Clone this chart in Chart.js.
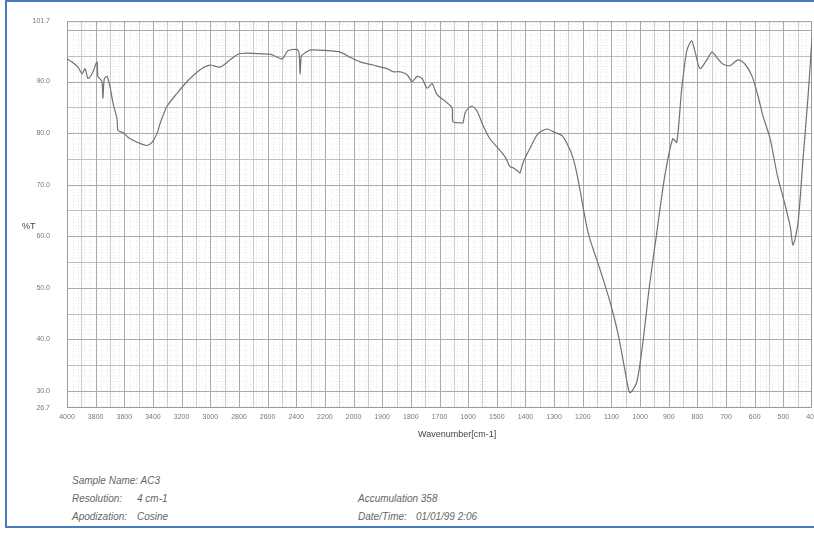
<!DOCTYPE html>
<html>
<head>
<meta charset="utf-8">
<title>AC3 - IR spectrum</title>
<script src="https://cdn.jsdelivr.net/npm/chart.js@4.4.1/dist/chart.umd.min.js"></script>
<style>
    html, body { margin: 0; padding: 0; background: #fff; overflow: hidden; }
    body { width: 814px; height: 533px; position: relative; font-family: "Liberation Sans", Arial, sans-serif; }
    .frame { position: absolute; left: 5px; top: 0; width: 840px; height: 528px;
             border: 2px solid #4a7bc0; border-right: none; box-sizing: border-box; }
    #wrap { position: absolute; left: 0; top: 0; }
    .txt { position: absolute; white-space: nowrap; color: #5a5a5a; }
    .axis-t { font-size: 9px; color: #444; }
    .info { font-size: 10px; font-style: italic; color: #666; }
</style>
</head>
<body>
<div class="frame"></div>
<div id="wrap"><canvas id="spectrum" width="830" height="430"></canvas></div>

<div class="txt axis-t" style="left:22px; top:221px;">%T</div>
<div class="txt axis-t" style="left:418px; top:429px;">Wavenumber[cm-1]</div>

<div class="txt info" style="left:72px; top:475px;">Sample Name: AC3</div>
<div class="txt info" style="left:72px; top:493px;">Resolution:</div>
<div class="txt info" style="left:137px; top:493px;">4 cm-1</div>
<div class="txt info" style="left:72px; top:511px;">Apodization:</div>
<div class="txt info" style="left:137px; top:511px;">Cosine</div>
<div class="txt info" style="left:358px; top:493px;">Accumulation 358</div>
<div class="txt info" style="left:358px; top:511px;">Date/Time:</div>
<div class="txt info" style="left:416px; top:511px;">01/01/99 2:06</div>

<script>
// Transmittance trace, wavenumber in cm-1 (descending) and %T
const wavenumbers = [
    4000, 3965, 3923, 3895, 3874, 3853, 3825, 3790, 3784, 3756, 3749, 3740, 3721, 3700, 3679,
    3651, 3644, 3609, 3574, 3539, 3490, 3441, 3407, 3372, 3351, 3302, 3232, 3162, 3071, 3002,
    2932, 2862, 2806, 2743, 2653, 2583, 2562, 2499, 2457, 2394, 2380, 2373, 2365, 2352, 2304,
    2185, 2094, 2024, 1977, 1932, 1883, 1862, 1838, 1813, 1796, 1778, 1761, 1743, 1726, 1709,
    1681, 1656, 1653, 1628, 1618, 1611, 1600, 1586, 1569, 1548, 1524, 1496, 1471, 1454, 1443,
    1426, 1419, 1408, 1384, 1356, 1325, 1297, 1272, 1255, 1234, 1216, 1181, 1140, 1105, 1077,
    1053, 1036, 1012, 991, 967, 942, 914, 886, 872, 855, 837, 820, 809, 791, 767,
    749, 728, 711, 686, 658, 634, 609, 588, 571, 546, 521, 501, 476, 466, 449,
    431, 413, 400
];
const transmittance = [
    94.4, 93.8, 92.8, 91.5, 92.5, 90.6, 91.5, 93.8, 91.0, 90.0, 86.8, 90.5, 91.0, 89.0, 85.8,
    82.8, 80.5, 80.1, 79.2, 78.6, 78.0, 77.6, 78.2, 79.9, 81.8, 85.2, 87.7, 90.0, 92.3, 93.2,
    92.8, 94.2, 95.3, 95.5, 95.4, 95.3, 95.1, 94.4, 96.0, 96.2, 95.5, 91.5, 95.0, 95.3, 96.1,
    96.0, 95.7, 94.7, 93.8, 93.2, 92.5, 91.9, 91.9, 91.3, 90.0, 91.0, 90.6, 88.7, 89.6, 87.5,
    86.2, 84.9, 82.2, 82.0, 82.0, 83.9, 84.8, 85.2, 84.3, 81.5, 78.9, 77.1, 75.4, 73.5, 73.3,
    72.6, 72.3, 74.3, 77.1, 79.9, 80.8, 80.1, 79.5, 78.0, 75.2, 70.9, 60.6, 53.6, 47.3, 41.1,
    34.1, 29.7, 31.6, 39.1, 50.5, 60.6, 71.6, 78.9, 78.2, 88.4, 96.0, 97.9, 96.0, 92.5, 94.2,
    95.7, 94.4, 93.4, 93.1, 94.2, 93.4, 91.0, 87.1, 83.3, 78.9, 71.8, 67.6, 61.9, 58.3, 62.5,
    75.2, 87.7, 98.5
];

// Tick labels
const xTickLabels = [4000, 3800, 3600, 3400, 3200, 3000, 2800, 2600, 2400, 2200, 2000,
    1900, 1800, 1700, 1600, 1500, 1400, 1300, 1200, 1100, 1000, 900, 800, 700, 600, 500, 400];
const yTickLabels = [26.7, 30, 40, 50, 60, 70, 80, 90, 101.7];

// Chart paper is compressed 2x above 2000 cm-1: one division = 200 cm-1 there, 100 cm-1 below
function toAxis(wn) {
    return wn >= 2000 ? (4000 - wn) / 200 : 10 + (2000 - wn) / 100;
}
function fromAxis(u) {
    return Math.round(u <= 10 ? 4000 - 200 * u : 2000 - 100 * (u - 10));
}

// Printed chart-paper grid, drawn under the trace
const paperGrid = {
    id: 'paperGrid',
    beforeDatasetsDraw(chart) {
        const { ctx, chartArea: a, scales: { x, y } } = chart;
        ctx.save();
        ctx.lineWidth = 1;

        function vline(u, color, dash) {
            const px = Math.round(x.getPixelForValue(u)) + 0.5;
            ctx.strokeStyle = color;
            ctx.setLineDash(dash);
            ctx.beginPath();
            ctx.moveTo(px, a.top);
            ctx.lineTo(px, a.bottom);
            ctx.stroke();
        }
        function hline(t, color, dash) {
            const py = Math.round(y.getPixelForValue(t)) + 0.5;
            ctx.strokeStyle = color;
            ctx.setLineDash(dash);
            ctx.beginPath();
            ctx.moveTo(a.left, py);
            ctx.lineTo(a.right, py);
            ctx.stroke();
        }

        // fine dotted divisions
        for (let i = 1; i < 130; i++) {
            if (i % 5 === 0) continue;
            vline(i / 5, '#e6e6e6', [1, 2]);
        }
        for (let t = 27; t <= 101; t++) {
            if (t % 5 === 0) continue;
            hline(t, '#efefef', [1, 2]);
        }
        // half divisions
        for (let i = 0; i < 26; i++) vline(i + 0.5, '#cbcbcb', []);
        for (let t = 35; t <= 100; t += 10) hline(t, '#c0c0c0', []);
        // main divisions
        for (let i = 1; i < 26; i++) vline(i, '#aaaaaa', []);
        for (let t = 30; t <= 100; t += 10) hline(t, '#aaaaaa', []);

        ctx.setLineDash([]);
        ctx.strokeStyle = '#9a9a9a';
        ctx.strokeRect(a.left + 0.5, a.top + 0.5, a.right - a.left - 1, a.bottom - a.top - 1);
        ctx.restore();
    }
};

const points = wavenumbers.map((wn, i) => ({ x: toAxis(wn), y: transmittance[i] }));

new Chart(document.getElementById('spectrum').getContext('2d'), {
    type: 'line',
    data: {
        datasets: [{
            data: points,
            borderColor: '#727272',
            borderWidth: 1.2,
            pointRadius: 0,
            tension: 0.25,
            fill: false
        }]
    },
    options: {
        responsive: false,
        animation: false,
        events: [],
        layout: { padding: { left: 0, right: 18, top: 13, bottom: 0 } },
        plugins: {
            legend: { display: false },
            tooltip: { enabled: false }
        },
        scales: {
            x: {
                type: 'linear',
                min: 0,
                max: 26,
                grid: { display: false, drawTicks: false },
                border: { display: false },
                afterBuildTicks: axis => {
                    axis.ticks = xTickLabels.map(wn => ({ value: toAxis(wn) }));
                },
                afterFit: axis => { axis.height = 22; },
                ticks: {
                    autoSkip: false,
                    maxRotation: 0,
                    padding: 5,
                    color: '#777',
                    font: { family: '"Liberation Sans", Arial, sans-serif', size: 7 },
                    callback: v => String(fromAxis(v))
                }
            },
            y: {
                type: 'linear',
                min: 26.7,
                max: 101.7,
                grid: { display: false, drawTicks: false },
                border: { display: false },
                afterBuildTicks: axis => {
                    axis.ticks = yTickLabels.map(v => ({ value: v }));
                },
                afterFit: axis => { axis.width = 67; },
                ticks: {
                    autoSkip: false,
                    padding: 17,
                    color: '#777',
                    font: { family: '"Liberation Sans", Arial, sans-serif', size: 7 },
                    callback: v => v.toFixed(1)
                }
            }
        }
    },
    plugins: [paperGrid]
});
</script>
</body>
</html>
